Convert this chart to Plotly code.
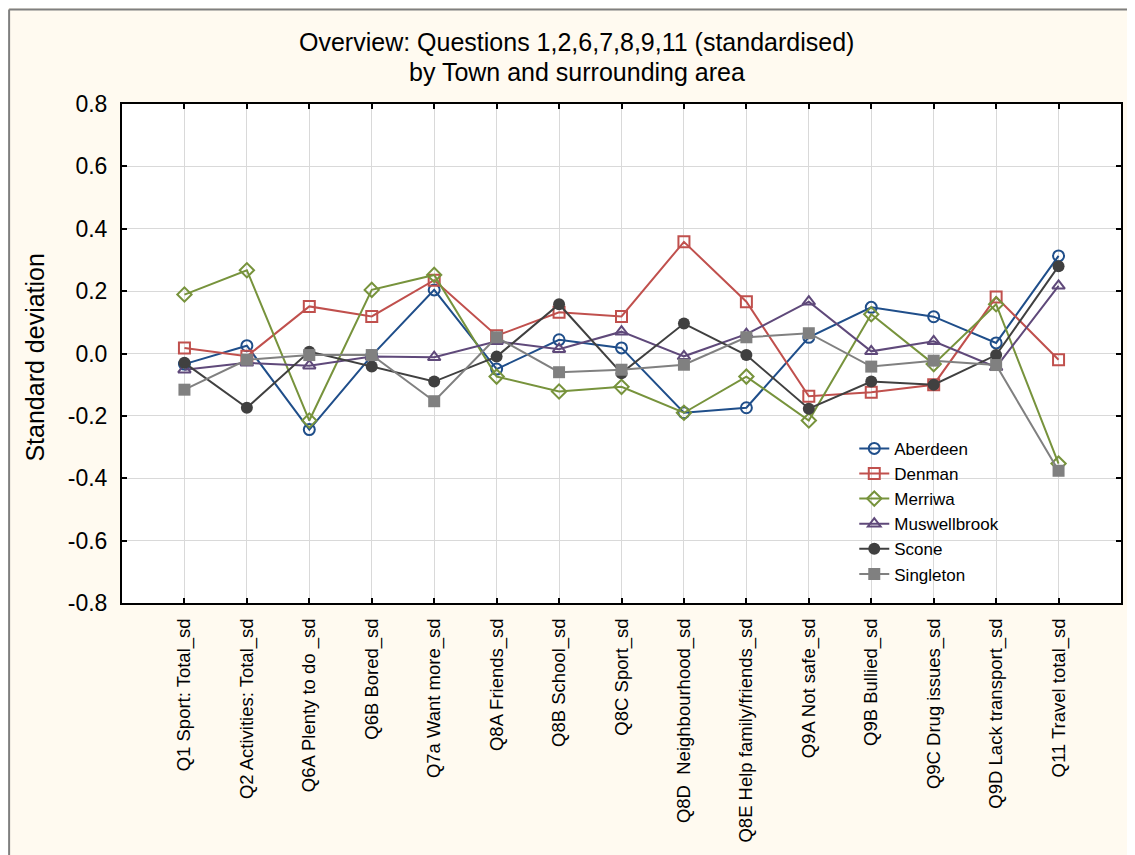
import plotly.graph_objects as go

categories = ["Q1 Sport: Total_sd", "Q2 Activities: Total_sd", "Q6A Plenty to do _sd",
              "Q6B Bored_sd", "Q7a Want more_sd", "Q8A Friends_sd", "Q8B School_sd",
              "Q8C Sport_sd", "Q8D\u00a0 Neighbourhood_sd", "Q8E Help family/friends_sd",
              "Q9A Not safe_sd", "Q9B Bullied_sd", "Q9C Drug issues_sd",
              "Q9D Lack transport_sd", "Q11 Travel total_sd"]

aberdeen = [-0.034, 0.025, -0.244, -0.007, 0.204, -0.050, 0.044, 0.018, -0.190, -0.174,
            0.052, 0.148, 0.118, 0.034, 0.313]
denman = [0.018, -0.009, 0.151, 0.119, 0.235, 0.057, 0.132, 0.119, 0.358, 0.166,
          -0.137, -0.124, -0.100, 0.181, -0.020]
merriwa = [0.189, 0.267, -0.215, 0.204, 0.252, -0.074, -0.122, -0.107, -0.190, -0.074,
           -0.215, 0.126, -0.034, 0.158, -0.353]
muswellbrook = [-0.052, -0.030, -0.039, -0.010, -0.012, 0.039, 0.014, 0.070, -0.009, 0.062,
                0.166, 0.007, 0.039, -0.044, 0.217]
scone = [-0.030, -0.174, 0.006, -0.042, -0.090, -0.010, 0.158, -0.063, 0.096, -0.005,
         -0.177, -0.090, -0.100, -0.005, 0.280]
singleton = [-0.116, -0.020, -0.005, -0.005, -0.153, 0.052, -0.060, -0.052, -0.036, 0.052,
             0.065, -0.042, -0.023, -0.037, -0.376]

y_tick_values = [-0.8, -0.6, -0.4, -0.2, 0.0, 0.2, 0.4, 0.6, 0.8]
y_tick_labels = ["-0.8", "-0.6", "-0.4", "-0.2", "0.0", "0.2", "0.4", "0.6", "0.8"]

series = [
    ("Aberdeen", aberdeen, "#1F4E8A", "circle-open"),
    ("Denman", denman, "#C0504D", "square-open"),
    ("Merriwa", merriwa, "#77933C", "diamond-open"),
    ("Muswellbrook", muswellbrook, "#5F497A", "triangle-up-open"),
    ("Scone", scone, "#404040", "circle"),
    ("Singleton", singleton, "#808080", "square"),
]

fig = go.Figure()
for name, vals, color, sym in series:
    fig.add_trace(go.Scatter(
        x=categories, y=vals, name=name, mode="lines+markers",
        line=dict(color=color, width=2),
        marker=dict(symbol=sym, size=11 if "open" in sym else 12, color=color,
                    line=dict(color=color, width=2 if "open" in sym else 0)),
    ))

axis_font = dict(family="Liberation Sans, Arial, sans-serif", color="black")

fig.update_layout(
    width=1127, height=847,
    margin=dict(l=114, r=13, t=96, b=250),
    paper_bgcolor="#FFFAF0",
    plot_bgcolor="white",
    font=dict(family="Liberation Sans, Arial, sans-serif", color="black"),
    showlegend=True,
    legend=dict(x=0.733, y=0.345, xanchor="left", yanchor="top",
                bgcolor="rgba(0,0,0,0)", font=dict(size=17),
                tracegroupgap=0),
    xaxis=dict(
        type="category", range=[-1, 15],
        showline=True, linecolor="black", linewidth=2, mirror="ticks",
        ticks="inside", ticklen=5, tickwidth=2, tickcolor="black",
        showgrid=True, gridcolor="#D9D9D9", gridwidth=1,
        tickangle=-90, tickfont=dict(size=18.5, **axis_font),
        ticklabelstandoff=6, zeroline=False,
    ),
    yaxis=dict(
        range=[-0.8, 0.8], tickvals=y_tick_values, ticktext=y_tick_labels,
        showline=True, linecolor="black", linewidth=2, mirror="ticks",
        ticks="inside", ticklen=5, tickwidth=2, tickcolor="black",
        showgrid=True, gridcolor="#D9D9D9", gridwidth=1,
        tickfont=dict(size=23, **axis_font), ticklabelstandoff=8,
        zeroline=False,
    ),
    annotations=[
        dict(text="Overview: Questions 1,2,6,7,8,9,11 (standardised)", xref="paper", yref="paper",
             x=0.455, y=1.1238, xanchor="center", yanchor="middle", showarrow=False,
             font=dict(size=25)),
        dict(text="by Town and surrounding area", xref="paper", yref="paper",
             x=0.455, y=1.0639, xanchor="center", yanchor="middle", showarrow=False,
             font=dict(size=25)),
        dict(text="Standard deviation", xref="paper", yref="paper",
             x=-0.087, y=0.492, xanchor="center", yanchor="middle", showarrow=False,
             textangle=-90, font=dict(size=25)),
    ],
    shapes=[
        dict(type="line", xref="paper", yref="paper", x0=-0.113, x1=-0.113, y0=-0.6, y1=1.1896,
             line=dict(color="#7F7F7F", width=2)),
        dict(type="line", xref="paper", yref="paper", x0=-0.113, x1=1.02, y0=1.1896, y1=1.1896,
             line=dict(color="#7F7F7F", width=2)),
    ],
)

fig.write_html("out.html")
